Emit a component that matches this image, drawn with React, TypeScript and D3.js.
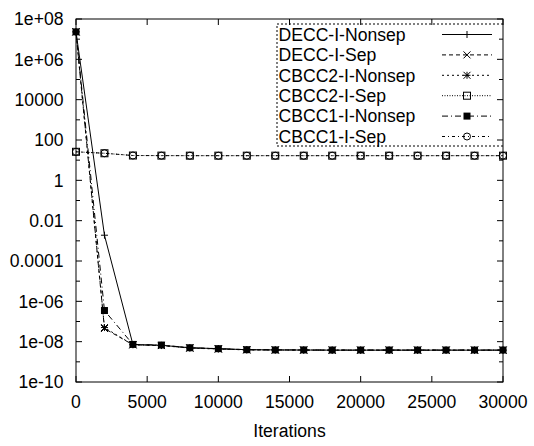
import React from "react";
import * as d3 from "d3";

const iterations = [0, 2000, 4000, 6000, 8000, 10000, 12000, 14000, 16000, 18000, 20000, 22000, 24000, 26000, 28000, 30000];

const deccNonsep = [2.3e7, 1.9e-3, 7.2e-9, 6.6e-9, 5.0e-9, 4.5e-9, 4.0e-9, 3.9e-9, 3.85e-9, 3.8e-9, 3.8e-9, 3.8e-9, 3.8e-9, 3.8e-9, 3.8e-9, 3.8e-9];
const deccSep = [2.3e7, 4.5e-8, 7.0e-9, 6.5e-9, 4.9e-9, 4.4e-9, 4.0e-9, 3.9e-9, 3.85e-9, 3.8e-9, 3.8e-9, 3.8e-9, 3.8e-9, 3.8e-9, 3.8e-9, 3.8e-9];
const cbcc2Nonsep = [2.3e7, 5.0e-8, 7.0e-9, 6.4e-9, 4.8e-9, 4.3e-9, 3.9e-9, 3.85e-9, 3.8e-9, 3.8e-9, 3.8e-9, 3.8e-9, 3.8e-9, 3.8e-9, 3.8e-9, 3.8e-9];
const cbcc2Sep = [26, 22, 17, 16.8, 16.7, 16.7, 16.7, 16.7, 16.7, 16.7, 16.7, 16.7, 16.7, 16.7, 16.7, 16.7];
const cbcc1Nonsep = [2.3e7, 3.5e-7, 7.3e-9, 6.8e-9, 5.0e-9, 4.5e-9, 4.0e-9, 3.9e-9, 3.9e-9, 3.85e-9, 3.85e-9, 3.85e-9, 3.85e-9, 3.85e-9, 3.85e-9, 3.85e-9];
const cbcc1Sep = [26, 22, 17, 16.8, 16.7, 16.7, 16.7, 16.7, 16.7, 16.7, 16.7, 16.7, 16.7, 16.7, 16.7, 16.7];

const seriesNames = ["DECC-I-Nonsep", "DECC-I-Sep", "CBCC2-I-Nonsep", "CBCC2-I-Sep", "CBCC1-I-Nonsep", "CBCC1-I-Sep"];
const seriesValues = [deccNonsep, deccSep, cbcc2Nonsep, cbcc2Sep, cbcc1Nonsep, cbcc1Sep];
const seriesMarkers = ["plus", "cross", "star", "square", "filledSquare", "circle"];
const seriesDashes = ["", "4,3", "2,3", "1,1.5", "6,3,1,3", "3,3,1,3"];

const xTicks = [0, 5000, 10000, 15000, 20000, 25000, 30000];
const yMajorTicks = [1e-10, 1e-8, 1e-6, 1e-4, 1e-2, 1, 1e2, 1e4, 1e6, 1e8];
const yMajorLabels = ["1e-10", "1e-08", "1e-06", "0.0001", "0.01", "1", "100", "10000", "1e+06", "1e+08"];
const yMinorTicks = [1e-9, 1e-7, 1e-5, 1e-3, 1e-1, 10, 1e3, 1e5, 1e7];

const W = 534, H = 446;
const L = 76, R = 503, T = 19, B = 382;
const FONT = "'Liberation Sans', Arial, Helvetica, sans-serif";
const FS = 17.6;

function Marker({ kind, x, y }: { kind: string; x: number; y: number }) {
  const s = 3.5;
  const st = { stroke: "#000", strokeWidth: 1, fill: "none" };
  if (kind === "plus")
    return <path d={`M${x - s},${y}H${x + s}M${x},${y - s}V${y + s}`} {...st} />;
  if (kind === "cross")
    return <path d={`M${x - s},${y - s}L${x + s},${y + s}M${x - s},${y + s}L${x + s},${y - s}`} {...st} />;
  if (kind === "star")
    return <path d={`M${x - s},${y}H${x + s}M${x},${y - s}V${y + s}M${x - s},${y - s}L${x + s},${y + s}M${x - s},${y + s}L${x + s},${y - s}`} {...st} />;
  if (kind === "square")
    return <rect x={x - s} y={y - s} width={2 * s} height={2 * s} {...st} />;
  if (kind === "filledSquare")
    return <rect x={x - s} y={y - s} width={2 * s} height={2 * s} fill="#000" />;
  return <circle cx={x} cy={y} r={s} {...st} />;
}

export default function App() {
  const x = d3.scaleLinear().domain([0, 30000]).range([L, R]);
  const y = d3.scaleLog().domain([1e-10, 1e8]).range([B, T]);
  const line = d3
    .line<number>()
    .x((_, i) => x(iterations[i]))
    .y((v) => y(v));

  const legendTop = 24, legendBottom = 146, legendLeft = 277;
  const rowY = (i: number) => 34.5 + i * 20.4;

  return (
    <svg width={W} height={H} style={{ position: "absolute", left: 0, top: 0, background: "#fff" }} fontFamily={FONT}>
      <rect x={0} y={0} width={W} height={H} fill="#fff" />
      {xTicks.map((t) => (
        <g key={"xt" + t}>
          <line x1={x(t)} x2={x(t)} y1={B} y2={B - 6} stroke="#000" />
          <line x1={x(t)} x2={x(t)} y1={T} y2={T + 6} stroke="#000" />
          <text x={x(t)} y={408} fontSize={FS} textAnchor="middle">{t}</text>
        </g>
      ))}
      {yMajorTicks.map((t, i) => (
        <g key={"ym" + i}>
          <line x1={L} x2={L + 6} y1={y(t)} y2={y(t)} stroke="#000" />
          <line x1={R} x2={R - 6} y1={y(t)} y2={y(t)} stroke="#000" />
          <text x={63.5} y={y(t)} dy="0.36em" fontSize={FS} textAnchor="end">{yMajorLabels[i]}</text>
        </g>
      ))}
      {yMinorTicks.map((t, i) => (
        <g key={"yn" + i}>
          <line x1={L} x2={L + 4} y1={y(t)} y2={y(t)} stroke="#000" />
          <line x1={R} x2={R - 4} y1={y(t)} y2={y(t)} stroke="#000" />
        </g>
      ))}
      <text x={(L + R) / 2} y={437} fontSize={FS} textAnchor="middle">Iterations</text>

      <path
        d={`M${R},${legendTop}H${legendLeft}V${legendBottom}H${R}`}
        fill="none"
        stroke="#000"
        strokeDasharray="2,2"
      />
      {seriesNames.map((name, i) => (
        <g key={"lg" + i}>
          <text x={278.5} y={rowY(i)} dy="0.36em" fontSize={FS}>{name}</text>
          <line x1={442} x2={492} y1={rowY(i)} y2={rowY(i)} stroke="#000" strokeDasharray={seriesDashes[i] || undefined} />
          <Marker kind={seriesMarkers[i]} x={467} y={rowY(i)} />
        </g>
      ))}

      {seriesValues.map((vals, si) => (
        <g key={"s" + si}>
          <path d={line(vals) || ""} fill="none" stroke="#000" strokeWidth={1} strokeDasharray={seriesDashes[si] || undefined} />
          {vals.map((v, i) => (
            <Marker key={i} kind={seriesMarkers[si]} x={x(iterations[i])} y={y(v)} />
          ))}
        </g>
      ))}

      <rect x={L} y={T} width={R - L} height={B - T} fill="none" stroke="#000" strokeWidth={1} />
    </svg>
  );
}
